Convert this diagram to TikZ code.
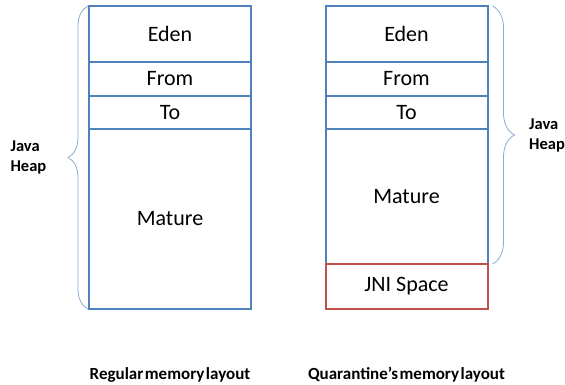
\documentclass[tikz,border=0pt]{standalone}
\usepackage{fontspec}
\setmainfont{Carlito}
\newfontfamily\tightfont[WordSpace=0.4]{Carlito}
\usetikzlibrary{positioning,decorations.pathreplacing}
\definecolor{heapblue}{RGB}{79,129,189}
\definecolor{jnired}{RGB}{192,80,77}
\definecolor{braceblue}{RGB}{140,170,210}
\tikzset{
  region/.style={draw=heapblue, line width=2pt, minimum width=162pt, inner sep=0pt, outer sep=0pt, font=\fontsize{22}{26}\selectfont},
  heapbrace/.style={draw=braceblue, line width=0.8pt, decorate, decoration={brace, amplitude=20pt}},
  tag/.style={font=\fontsize{16.5}{20}\selectfont\bfseries, align=left},
  caption/.style={font=\tightfont\fontsize{17}{20}\selectfont\bfseries}
}
\begin{document}
\begin{tikzpicture}[x=1pt, y=1pt, node distance=0pt]
    \useasboundingbox (0,0) rectangle (565,385);
    % regular layout
    \node[region, minimum height=56pt] (eden1) at (170,351) {Eden};
    \node[region, minimum height=34pt, below=of eden1] (from1) {From};
    \node[region, minimum height=33pt, below=of from1] (to1) {To};
    \node[region, minimum height=180pt, below=of to1] (mature1) {Mature};
    % quarantine layout
    \node[region, minimum height=56pt] (eden2) at (406.5,351) {Eden};
    \node[region, minimum height=34pt, below=of eden2] (from2) {From};
    \node[region, minimum height=33pt, below=of from2] (to2) {To};
    \node[region, minimum height=135pt, below=of to2] (mature2) {Mature};
    \node[region, draw=jnired, minimum height=45pt, below=of mature2] (jni2) {JNI Space};
    % braces
    \draw[heapbrace] ([xshift=-1pt]mature1.south west) -- ([xshift=-1pt]eden1.north west)
      node[tag, midway, left=38pt] (heap1) {Java\\Heap};
    \draw[heapbrace, decoration={amplitude=22pt}] ([xshift=5pt]eden2.north east) -- ([xshift=5pt]mature2.south east)
      node[tag, midway, right=33pt] (heap2) {Java\\Heap};
    % captions
    \node[caption] (cap1) at (170,10) {Regular memory layout};
    \node[caption] (cap2) at (406.5,10) {Quarantine’s memory layout};
\end{tikzpicture}
\end{document}
